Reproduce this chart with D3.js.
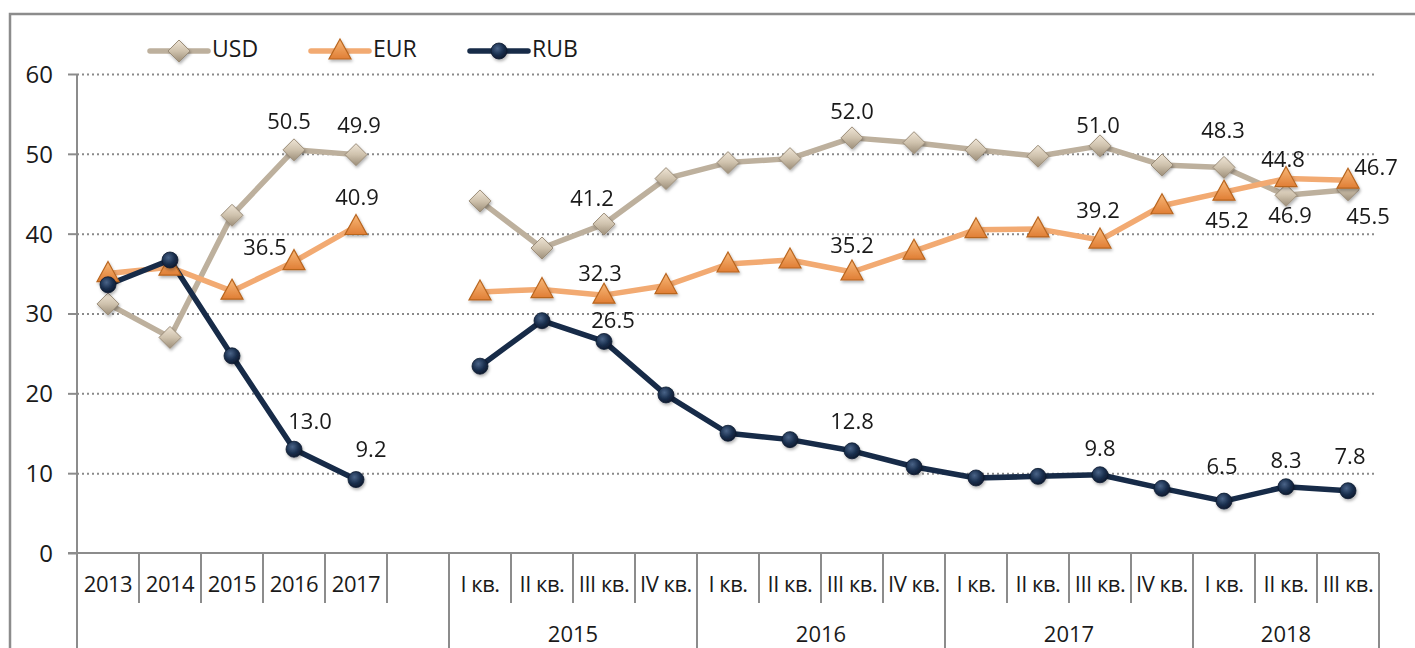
<!DOCTYPE html>
<html>
<head>
<meta charset="utf-8">
<script src="https://cdn.jsdelivr.net/npm/d3@7"></script>
<style>
  body { margin: 0; background: #fff; }
  svg { display: block; font-family: "Open Sans", "Noto Sans", sans-serif; }
</style>
</head>
<body>
<svg id="chart" width="1415" height="648"></svg>
<script>
// categories: 5 years, one empty slot, then 15 quarters
const years = ['2013', '2014', '2015', '2016', '2017'];
const quarterNames = ['I кв.', 'II кв.', 'III кв.', 'IV кв.'];
const quarterYears = ['2015', '2016', '2017', '2018'];
const quarterCounts = [4, 4, 4, 3];

const usdYears = [31.2, 27.0, 42.3, 50.5, 49.9];
const eurYears = [35.0, 35.8, 32.8, 36.5, 40.9];
const rubYears = [33.6, 36.7, 24.7, 13.0, 9.2];

const usdQuarters = [44.1, 38.2, 41.2, 46.9, 48.9, 49.4, 52.0, 51.4, 50.5, 49.7, 51.0, 48.6, 48.3, 44.8, 45.5];
const eurQuarters = [32.7, 33.0, 32.3, 33.5, 36.2, 36.7, 35.2, 37.8, 40.5, 40.6, 39.2, 43.5, 45.2, 46.9, 46.7];
const rubQuarters = [23.4, 29.1, 26.5, 19.8, 15.0, 14.2, 12.8, 10.8, 9.4, 9.6, 9.8, 8.1, 6.5, 8.3, 7.8];

const yTicks = [0, 10, 20, 30, 40, 50, 60];

// build the category list
const cats = years.map(y => ({ key: 'a' + y, label: y }));
cats.push({ key: 'gap', label: '' });
quarterYears.forEach((yr, gi) => {
  for (let q = 0; q < quarterCounts[gi]; q++) {
    cats.push({ key: yr + 'q' + q, label: quarterNames[q], group: yr });
  }
});

const seriesDefs = [
  { name: 'USD', vals: usdYears.concat([null], usdQuarters), color: '#bdb09d', marker: 'diamond' },
  { name: 'EUR', vals: eurYears.concat([null], eurQuarters), color: '#f2aa72', marker: 'triangle' },
  { name: 'RUB', vals: rubYears.concat([null], rubQuarters), color: '#172b48', marker: 'circle' }
];

// value labels: [series, category key, dx, dy]
const labelPlaces = [
  ['USD', 'a2016', -5, -27], ['USD', 'a2017', 3, -28],
  ['EUR', 'a2016', -29, -12], ['EUR', 'a2017', 1, -27],
  ['RUB', 'a2016', 16, -26], ['RUB', 'a2017', 15, -28],
  ['USD', '2015q2', -12, -24], ['EUR', '2015q2', -4, -20], ['RUB', '2015q2', 9, -19],
  ['USD', '2016q2', 0, -25], ['EUR', '2016q2', 0, -25], ['RUB', '2016q2', 0, -28],
  ['USD', '2017q2', -2, -19], ['EUR', '2017q2', -2, -28], ['RUB', '2017q2', 0, -25],
  ['USD', '2018q0', -1, -35], ['EUR', '2018q0', 3, 30], ['RUB', '2018q0', -2, -33],
  ['USD', '2018q1', -3, -34], ['EUR', '2018q1', 4, 39], ['RUB', '2018q1', 0, -25],
  ['USD', '2018q2', 20, 28], ['EUR', '2018q2', 28, -11], ['RUB', '2018q2', 2, -33]
];

const svg = d3.select('#chart');
const plotLeft = 77, plotRight = 1379, plotTop = 74, plotBase = 553;
const textColor = '#1a1a1a';

const x = d3.scaleBand().domain(cats.map(c => c.key)).range([plotLeft, plotRight]).padding(0);
const y = d3.scaleLinear().domain([0, 60]).range([plotBase, plotTop]);
const cx = k => x(k) + x.bandwidth() / 2;

// defs: gradients and shadow
const defs = svg.append('defs');
const sh = defs.append('filter').attr('id', 'shadow').attr('x', '-50%').attr('y', '-50%').attr('width', '200%').attr('height', '200%');
sh.append('feDropShadow').attr('dx', 1).attr('dy', 2).attr('stdDeviation', 1.5).attr('flood-color', '#000').attr('flood-opacity', 0.3);

let g1 = defs.append('linearGradient').attr('id', 'gDiamond').attr('x1', 0).attr('y1', 0).attr('x2', 0).attr('y2', 1);
g1.append('stop').attr('offset', '0%').attr('stop-color', '#efe5d6');
g1.append('stop').attr('offset', '50%').attr('stop-color', '#cfc2ad');
g1.append('stop').attr('offset', '100%').attr('stop-color', '#9c8e79');

let g2 = defs.append('linearGradient').attr('id', 'gTri').attr('x1', 0).attr('y1', 0).attr('x2', 0).attr('y2', 1);
g2.append('stop').attr('offset', '0%').attr('stop-color', '#f8b878');
g2.append('stop').attr('offset', '100%').attr('stop-color', '#e07e35');

let g3 = defs.append('radialGradient').attr('id', 'gCirc').attr('cx', '40%').attr('cy', '35%').attr('r', '65%');
g3.append('stop').attr('offset', '0%').attr('stop-color', '#4a6488');
g3.append('stop').attr('offset', '60%').attr('stop-color', '#1a2f4e');
g3.append('stop').attr('offset', '100%').attr('stop-color', '#0e1b30');

// outer frame
svg.append('rect')
  .attr('x', 10).attr('y', 14).attr('width', 1440).attr('height', 700)
  .attr('fill', 'none').attr('stroke', '#8c8c8c').attr('stroke-width', 2.5);

// dotted grid
svg.append('g')
  .attr('transform', `translate(${plotLeft},0)`)
  .call(d3.axisLeft(y).tickValues(yTicks.filter(t => t > 0)).tickSize(-(plotRight - plotLeft - 2)).tickFormat(''))
  .call(g => g.select('.domain').remove())
  .call(g => g.selectAll('line').attr('stroke', '#8a8a8a').attr('stroke-width', 2).attr('stroke-dasharray', '2,3'));

// y axis ticks and labels
svg.append('g')
  .attr('transform', `translate(${plotLeft},0)`)
  .call(d3.axisLeft(y).tickValues(yTicks).tickSize(9).tickPadding(15))
  .call(g => g.select('.domain').remove())
  .call(g => g.selectAll('line').attr('stroke', '#8c8c8c').attr('stroke-width', 2))
  .call(g => g.selectAll('text').attr('font-size', 24).attr('fill', textColor)
    .attr('font-family', '"Open Sans", sans-serif').attr('dy', '0.35em'));

// axis lines
svg.append('line').attr('x1', plotLeft).attr('x2', plotLeft).attr('y1', plotTop).attr('y2', 648)
  .attr('stroke', '#8c8c8c').attr('stroke-width', 2);
svg.append('line').attr('x1', plotLeft - 9).attr('x2', plotRight).attr('y1', plotBase).attr('y2', plotBase)
  .attr('stroke', '#8c8c8c').attr('stroke-width', 2);

// category separators: long ones mark the start of a new group
cats.forEach((c, i) => {
  if (i === 0) return;
  const prev = cats[i - 1];
  const long = prev.key === 'gap' || (c.group && prev.group && prev.group !== c.group);
  const xx = x(c.key);
  svg.append('line').attr('x1', xx).attr('x2', xx).attr('y1', plotBase).attr('y2', long ? 648 : 603)
    .attr('stroke', '#8c8c8c').attr('stroke-width', 2);
});
svg.append('line').attr('x1', plotRight).attr('x2', plotRight).attr('y1', plotBase).attr('y2', 648)
  .attr('stroke', '#8c8c8c').attr('stroke-width', 2);

// category labels
svg.append('g').selectAll('text').data(cats).join('text')
  .attr('x', d => cx(d.key))
  .attr('y', 586)
  .attr('text-anchor', 'middle')
  .attr('dominant-baseline', 'middle')
  .attr('font-size', 22)
  .attr('letter-spacing', '-0.5')
  .attr('fill', textColor)
  .text(d => d.label);

// group labels
quarterYears.forEach(yr => {
  const ks = cats.filter(c => c.group === yr);
  const x0 = x(ks[0].key), x1 = x(ks[ks.length - 1].key) + x.bandwidth();
  svg.append('text').attr('x', (x0 + x1) / 2).attr('y', 636)
    .attr('text-anchor', 'middle').attr('dominant-baseline', 'middle')
    .attr('font-size', 22).attr('fill', textColor).text(yr);
});

// markers
function drawMarker(sel, type) {
  if (type === 'diamond') {
    sel.append('path').attr('d', 'M0,-11L11,0L0,11L-11,0Z')
      .attr('fill', 'url(#gDiamond)').attr('stroke', '#9a8c78').attr('stroke-width', 1);
  } else if (type === 'triangle') {
    sel.append('path').attr('d', 'M0,-12L11,8L-11,8Z')
      .attr('fill', 'url(#gTri)').attr('stroke', '#b8651f').attr('stroke-width', 1.2);
  } else {
    sel.append('circle').attr('r', 8).attr('fill', 'url(#gCirc)').attr('stroke', '#0e1b30').attr('stroke-width', 0.8);
  }
}

const line = d3.line()
  .defined(d => d.v != null)
  .x(d => cx(d.key))
  .y(d => y(d.v));

seriesDefs.forEach(s => {
  s.pts = cats.map((c, i) => ({ key: c.key, v: s.vals[i] }));
  svg.append('path').datum(s.pts)
    .attr('fill', 'none').attr('stroke', s.color).attr('stroke-width', 5.5)
    .attr('stroke-linejoin', 'round').attr('d', line);
});

seriesDefs.forEach(s => {
  const mg = svg.append('g').attr('filter', 'url(#shadow)');
  s.pts.filter(p => p.v != null).forEach(p => {
    drawMarker(mg.append('g').attr('transform', `translate(${cx(p.key)},${y(p.v)})`), s.marker);
  });
});

// value labels
labelPlaces.forEach(([name, key, dx, dy]) => {
  const s = seriesDefs.find(d => d.name === name);
  const p = s.pts.find(d => d.key === key);
  svg.append('text')
    .attr('x', cx(key) + dx)
    .attr('y', y(p.v) + dy)
    .attr('text-anchor', 'middle').attr('dominant-baseline', 'middle')
    .attr('font-size', 22).attr('fill', textColor)
    .text(p.v.toFixed(1));
});

// legend
const legX = [150, 311, 470];
seriesDefs.forEach((s, i) => {
  const lg = svg.append('g').attr('transform', `translate(${legX[i]},51)`);
  lg.append('line').attr('x1', 0).attr('x2', 58).attr('stroke', s.color).attr('stroke-width', 5.5).attr('stroke-linecap', 'round');
  drawMarker(lg.append('g').attr('transform', 'translate(29,0)').attr('filter', 'url(#shadow)'), s.marker);
  lg.append('text').attr('x', 62).attr('dominant-baseline', 'middle')
    .attr('font-size', 23).attr('fill', textColor).text(s.name);
});
</script>
</body>
</html>
